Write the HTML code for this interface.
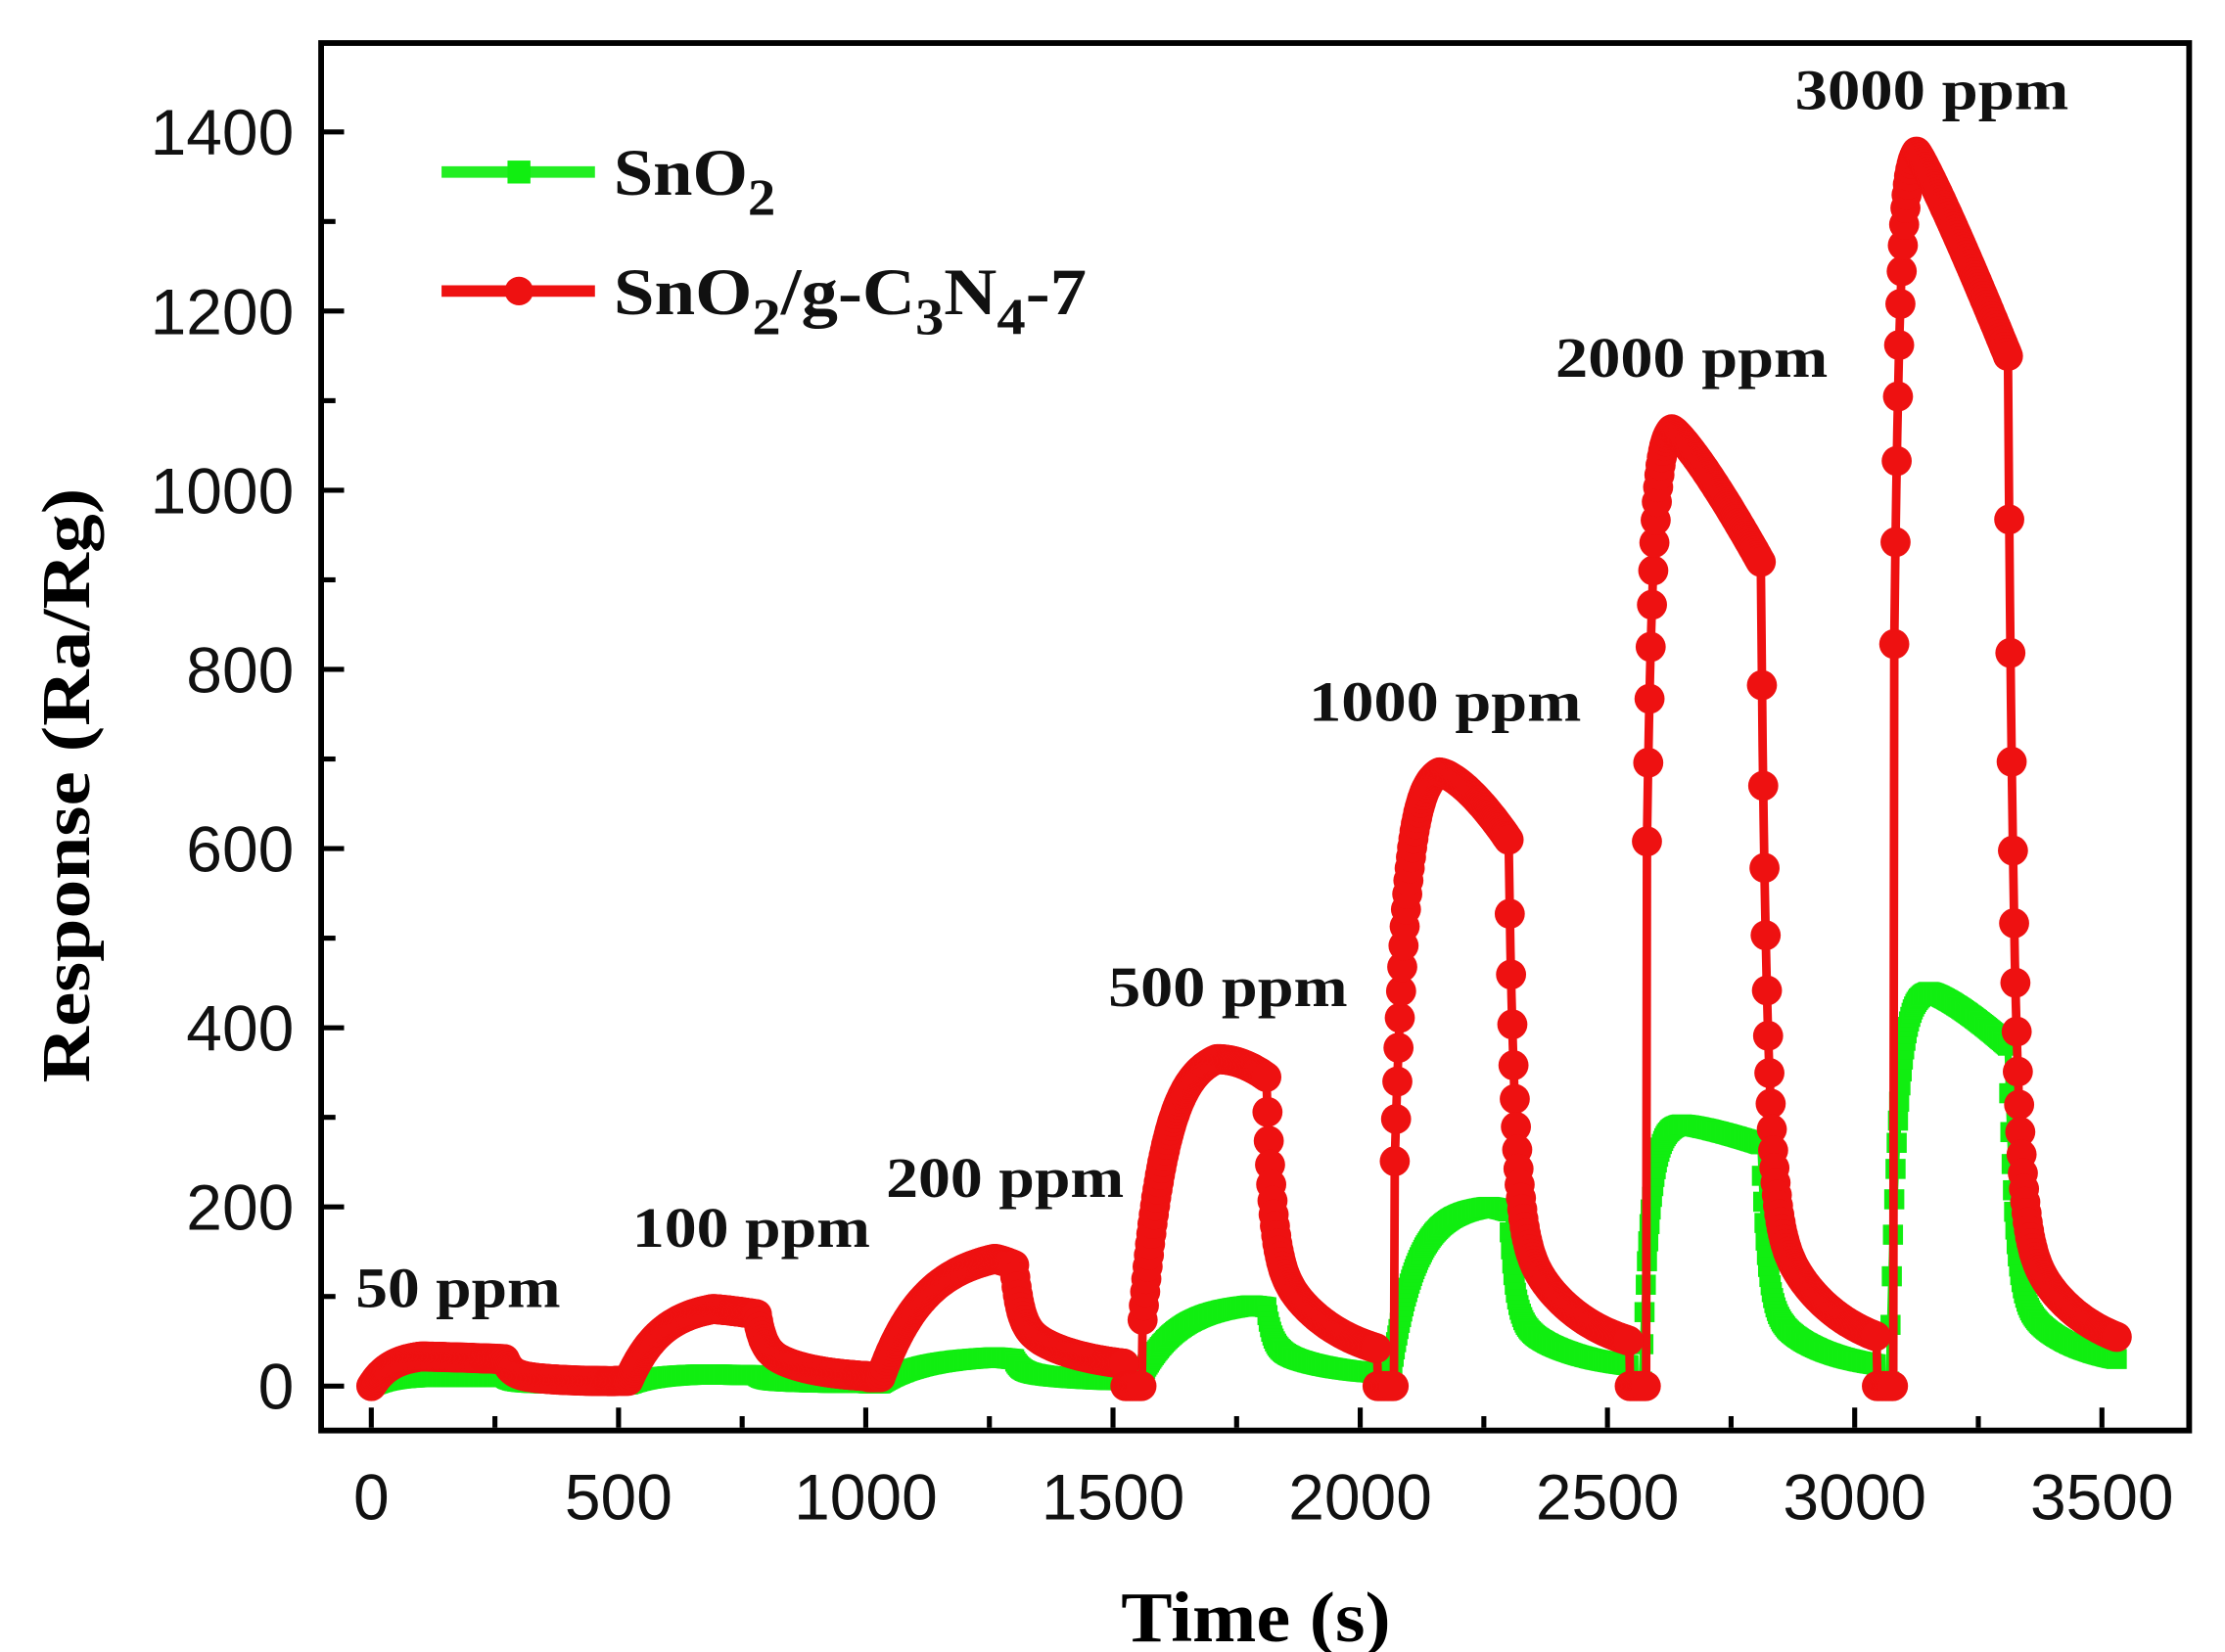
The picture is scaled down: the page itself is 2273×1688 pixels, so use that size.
<!DOCTYPE html>
<html><head><meta charset="utf-8"><style>html,body{margin:0;padding:0;background:#fff}svg{display:block}</style></head>
<body>
<svg id="s" width="2273" height="1688" viewBox="0 0 1552 1152.5" xmlns="http://www.w3.org/2000/svg">
<rect x="0" y="0" width="1552" height="1153" fill="#fff"/>
<g id="plot"></g>
<rect x="224" y="30" width="1303" height="968" fill="none" stroke="#000" stroke-width="4"/>
<g id="ticks" stroke="#000" stroke-width="3.5"></g>
<g font-family="Liberation Sans, Arial, sans-serif" font-size="45" fill="#111" text-anchor="end" id="ylab"></g>
<g font-family="Liberation Sans, Arial, sans-serif" font-size="45" fill="#111" text-anchor="middle" id="xlab"></g>
<text x="876" y="1145" font-family="Liberation Serif, serif" font-weight="bold" font-size="50" text-anchor="middle" textLength="188" lengthAdjust="spacingAndGlyphs">Time (s)</text>
<text transform="translate(62,548) rotate(-90)" font-family="Liberation Serif, serif" font-weight="bold" font-size="48" text-anchor="middle" textLength="415" lengthAdjust="spacingAndGlyphs">Response (Ra/Rg)</text>
<g font-family="Liberation Serif, serif" font-weight="bold" font-size="40" fill="#111">
<text x="248" y="912" textLength="143" lengthAdjust="spacingAndGlyphs">50 ppm</text>
<text x="441" y="870" textLength="166" lengthAdjust="spacingAndGlyphs">100 ppm</text>
<text x="618" y="835" textLength="166" lengthAdjust="spacingAndGlyphs">200 ppm</text>
<text x="773" y="702" textLength="167" lengthAdjust="spacingAndGlyphs">500 ppm</text>
<text x="913" y="503" textLength="190" lengthAdjust="spacingAndGlyphs">1000 ppm</text>
<text x="1085" y="263" textLength="190" lengthAdjust="spacingAndGlyphs">2000 ppm</text>
<text x="1252" y="76" textLength="191" lengthAdjust="spacingAndGlyphs">3000 ppm</text>
</g>
<line x1="308" y1="120" x2="415" y2="120" stroke="#22ee22" stroke-width="8"/>
<rect x="354" y="112" width="16" height="16" fill="#11ee11"/>
<line x1="308" y1="203" x2="415" y2="203" stroke="#ee1111" stroke-width="8"/>
<circle cx="362" cy="203" r="10" fill="#ee1111"/>
<g font-family="Liberation Serif, serif" font-size="46" fill="#111" font-weight="bold">
<text x="428" y="136" textLength="113" lengthAdjust="spacingAndGlyphs">SnO<tspan font-size="36" dy="14">2</tspan></text>
<text x="428" y="219" textLength="330" lengthAdjust="spacingAndGlyphs">SnO<tspan font-size="36" dy="14">2</tspan><tspan dy="-14">/g-C</tspan><tspan font-size="36" dy="14">3</tspan><tspan dy="-14">N</tspan><tspan font-size="36" dy="14">4</tspan><tspan dy="-14">-7</tspan></text>
</g>
</svg>
<script>
var NS="http://www.w3.org/2000/svg";
function X(t){return 259+t*0.3449;}
function Y(v){return 967-v*0.625;}
function el(p,n,a){var e=document.createElementNS(NS,n);for(var k in a)e.setAttribute(k,a[k]);p.appendChild(e);return e;}
var tk=document.getElementById("ticks"),yl=document.getElementById("ylab"),xl=document.getElementById("xlab");
for(var v=0;v<=1500;v+=100){var y=Y(v);if(y<32)continue;var maj=v%200==0;el(tk,"line",{x1:226,x2:226+(maj?14:8),y1:y,y2:y});if(maj)el(yl,"text",{x:205,y:y+16}).textContent=v;}
for(var t=0;t<=3600;t+=250){var x=X(t);if(x>1525)continue;var maj=t%500==0;el(tk,"line",{x1:x,x2:x,y1:996,y2:996-(maj?14:8)});if(maj)el(xl,"text",{x:x,y:1060}).textContent=t;}
function make(cyc,zeroDip){
 return function(t){
  for(var i=0;i<cyc.length;i++){
   var c=cyc[i],nx=(i+1<cyc.length)?cyc[i+1][0]:4000;
   if(t>=c[0]-25&&t<nx-25){
    var t0=c[0],tr=c[1],pk=c[2],toff=c[3],pe=c[4],fl=c[5],b=c[6],k=c[9]||2.5;
    if(zeroDip&&i>=3&&t<t0+10)return 0;
    if(t<t0)return b;
    if(t<t0+tr){var u=(t-t0)/tr;return b+(pk-b)*(1-Math.exp(-k*u))/(1-Math.exp(-k));}
    if(t<toff){var s=(t-t0-tr)/(toff-t0-tr);return pk+(pe-pk)*Math.pow(s,c[10]||1.3);}
    var d=t-toff;return fl+(pe-fl)*(c[7]*Math.exp(-d/12)+(1-c[7])*Math.exp(-d/c[8]));
   }
  }
  return 0;
 };
}
var red=make([
[0,100,33,270,30,5,0,0.6,70,2.5],
[520,170,86,780,80,8,6,0.5,90,2.5],
[1030,230,142,1300,135,18,10,0.55,110,2.5],
[1550,160,365,1810,345,22,0,0.6,120,3.5,2],
[2060,100,685,2300,610,30,0,0.73,120,4.5,1.5],
[2570,60,1068,2810,920,30,0,0.8,120,5,1.2],
[3070,55,1378,3310,1150,30,0,0.85,115,5,1.1]],true);
var green=make([
[0,100,10,270,10,2,0,0.5,60],
[520,150,13,780,12,3,2,0.5,80],
[1030,230,32,1300,30,5,3,0.5,100],
[1550,230,90,1810,88,10,3,0.55,110,3],
[2060,200,200,2300,195,15,5,0.65,120,4],
[2570,80,292,2810,270,15,5,0.7,110,5],
[3070,80,440,3310,380,18,5,0.75,110,5]],false);
var g=document.getElementById("plot");
function series(f,col,mk){
 var pts=[];for(var t=0;t<=3530;t+=2){pts.push(X(t).toFixed(1)+","+Y(f(t)).toFixed(1));}
 el(g,"polyline",{points:pts.join(" "),fill:"none",stroke:col,"stroke-width":mk=="c"?6:5,"stroke-linejoin":"round"});
 for(var t=0;t<=3530;t+=2.5){var x=X(t),y=Y(f(t));
  if(mk=="c")el(g,"circle",{cx:x.toFixed(1),cy:y.toFixed(1),r:10.5,fill:col});
  else el(g,"rect",{x:(x-7).toFixed(1),y:(y-7).toFixed(1),width:14,height:14,fill:col});}
}
series(green,"#11ee11","s");
series(red,"#ee1111","c");
</script>
</body></html>
